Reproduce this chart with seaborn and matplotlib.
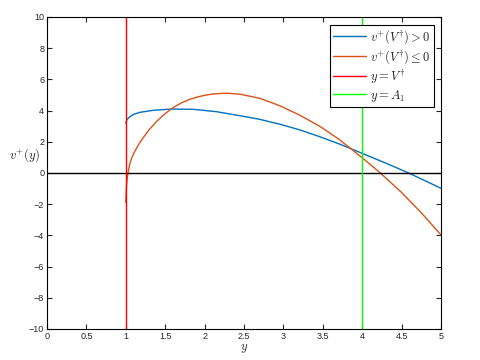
import matplotlib
matplotlib.use("Agg")
import matplotlib.pyplot as plt
import seaborn as sns
import pandas as pd

# Data
blue_x = [1.0, 1.01, 1.02, 1.05, 1.1, 1.18, 1.35, 1.58, 1.86, 2.15, 2.45, 2.7, 2.96, 3.21, 3.46, 3.72, 4.0, 4.3, 4.59, 5.0]
blue_y = [3.19, 3.35, 3.45, 3.6, 3.76, 3.89, 4.02, 4.1, 4.08, 3.93, 3.67, 3.44, 3.12, 2.76, 2.33, 1.84, 1.26, 0.63, 0.0, -0.98]

orange_x = [1.0, 1.005, 1.01, 1.02, 1.03, 1.045, 1.06, 1.08, 1.1, 1.15, 1.2, 1.3, 1.4, 1.5, 1.6, 1.7, 1.8, 1.9, 2.0, 2.1, 2.2, 2.3, 2.45, 2.7, 2.96, 3.21, 3.46, 3.7, 3.87, 4.0, 4.23, 4.5, 4.75, 5.0]
orange_y = [-1.9, -1.2, -0.75, -0.25, 0.05, 0.45, 0.75, 1.02, 1.25, 1.72, 2.12, 2.8, 3.35, 3.81, 4.19, 4.48, 4.7, 4.86, 4.98, 5.06, 5.1, 5.11, 5.05, 4.79, 4.3, 3.7, 3.0, 2.18, 1.5, 0.98, 0.0, -1.25, -2.55, -3.97]

v_dagger = 1.0
a_one = 4.0
x_ticks = [0, 0.5, 1, 1.5, 2, 2.5, 3, 3.5, 4, 4.5, 5]
x_tick_labels = ["0", "0.5", "1", "1.5", "2", "2.5", "3", "3.5", "4", "4.5", "5"]
y_ticks = [-10, -8, -6, -4, -2, 0, 2, 4, 6, 8, 10]

labels = [r"$v^{+}(V^{\dagger})>0$", r"$v^{+}(V^{\dagger})\leq0$", r"$y=V^{\dagger}$", r"$y=A_1$"]

sns.set_style("white")
plt.rcParams["font.family"] = ["Liberation Sans", "DejaVu Sans"]
plt.rcParams["mathtext.fontset"] = "cm"

df = pd.concat([
    pd.DataFrame({"x": blue_x, "y": blue_y, "s": labels[0]}),
    pd.DataFrame({"x": orange_x, "y": orange_y, "s": labels[1]}),
])

fig = plt.figure(figsize=(4.8, 3.6), dpi=100)
ax = fig.add_axes([47/480, 31/360, 394/480, 312/360])

sns.lineplot(data=df, x="x", y="y", hue="s", sort=False,
             palette={labels[0]: "#0072BD", labels[1]: "#D95319"},
             linewidth=1.0, ax=ax, legend=False)
ax.axhline(0, color="black", linewidth=1.0)
ax.axvline(v_dagger, color="red", linewidth=1.0)
ax.axvline(a_one, color="#00FF00", linewidth=1.0)

ax.set_xlim(0, 5)
ax.set_ylim(-10, 10)
ax.set_xticks(x_ticks)
ax.set_xticklabels(x_tick_labels)
ax.set_yticks(y_ticks)
ax.tick_params(direction="in", length=3.5, width=0.8, labelsize=6.5,
               top=True, right=True, bottom=True, left=True, pad=2)
for sp in ax.spines.values():
    sp.set_visible(True)
    sp.set_color("black")
    sp.set_linewidth(0.8)

ax.set_xlabel(r"$y$", fontsize=9)
ax.set_ylabel(r"$v^{+}(y)$", fontsize=9, rotation=0)
ax.xaxis.set_label_coords(0.5, -0.042)
ax.yaxis.set_label_coords(-0.058, 0.53)

handles = [
    plt.Line2D([], [], color="#0072BD", linewidth=1.0),
    plt.Line2D([], [], color="#D95319", linewidth=1.0),
    plt.Line2D([], [], color="red", linewidth=1.0),
    plt.Line2D([], [], color="#00FF00", linewidth=1.0),
]
leg = ax.legend(handles, labels, loc="upper right", fontsize=9, frameon=True,
                fancybox=False, edgecolor="black", framealpha=1,
                handlelength=2.6, borderaxespad=0.6, labelspacing=0.15,
                borderpad=0.3, handletextpad=0.3)
leg.get_frame().set_linewidth(0.8)

fig.savefig("out.png", dpi=100, facecolor="white")
